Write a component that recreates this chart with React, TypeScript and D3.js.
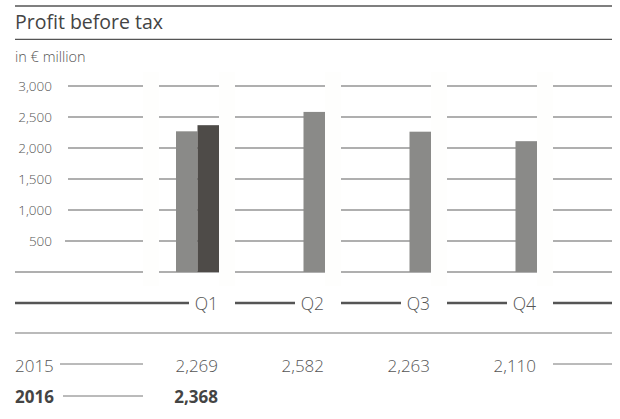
import React from "react";
import * as d3 from "d3";

const quarters = ["Q1", "Q2", "Q3", "Q4"];
const values2015 = [2269, 2582, 2263, 2110];
const values2016: (number | null)[] = [2368, null, null, null];
const yTicks = [500, 1000, 1500, 2000, 2500, 3000];
const title = "Profit before tax";
const unit = "in € million";

const W = 620;
const H = 419;
const FONT = "'Open Sans', Lato, sans-serif";
const fmt = d3.format(",");

export default function App() {
  const y = d3.scaleLinear().domain([0, 3000]).range([272, 86]);
  const x = d3.scaleBand<string>().domain(quarters).range([113, 537]).padding(0);
  const bw = x.bandwidth();
  const barW = 21.5;
  const gapW = 16;
  const left = 15;
  const right = 612;
  const gridColor = "#959595";
  const textColor = "#555";

  const groupEnd = (q: string) => (x(q) as number) + bw;
  const columns: [number, number][] = [];
  columns.push([68, 143]);
  quarters.forEach((q, i) => {
    const start = i === 0 ? 143 + gapW : groupEnd(quarters[i - 1]) + gapW;
    columns.push([start, groupEnd(q)]);
  });
  columns.push([groupEnd(quarters[3]) + gapW, right]);
  const gaps = [143, ...quarters.map((q) => groupEnd(q))];

  return (
    <svg
      width={W}
      height={H}
      style={{ position: "absolute", left: 0, top: 0, background: "#fff" }}
      fontFamily={FONT}
    >
      <rect x={0} y={0} width={W} height={H} fill="#fff" />
      <line x1={left} x2={right} y1={6} y2={6} stroke="#555" strokeWidth={1.3} />
      <text x={left} y={29} fontSize={19.5} fill="#444" fontWeight={400}>
        {title}
      </text>
      <line x1={left} x2={right} y1={39.3} y2={39.3} stroke="#555" strokeWidth={1.3} />
      <text x={left} y={62} fontSize={14.5} fill={textColor} fontWeight={300}>
        {unit}
      </text>

      {gaps.map((g, i) => (
        <rect key={i} x={g} y={72} width={gapW} height={214} fill="#fefefd" />
      ))}

      {yTicks.map((t) => (
        <g key={t}>
          <text
            x={52}
            y={y(t)}
            dy="0.35em"
            textAnchor="end"
            fontSize={13.5}
            fill={textColor}
            fontWeight={300}
          >
            {fmt(t)}
          </text>
          {columns.map(([a, b], i) => (
            <line
              key={i}
              x1={i === 0 && t === 500 ? 65 : a}
              x2={b}
              y1={y(t)}
              y2={y(t)}
              stroke={gridColor}
              strokeWidth={1.3}
            />
          ))}
        </g>
      ))}
      {columns.map(([a, b], i) => (
        <line
          key={"z" + i}
          x1={i === 0 ? left : a}
          x2={b}
          y1={y(0)}
          y2={y(0)}
          stroke={gridColor}
          strokeWidth={1.3}
        />
      ))}

      {quarters.map((q, i) => {
        const end = groupEnd(q);
        const v16 = values2016[i];
        const x15 = v16 != null ? end - 2 * barW : end - barW;
        return (
          <g key={q}>
            <rect
              x={x15}
              y={y(values2015[i])}
              width={barW}
              height={y(0) - y(values2015[i])}
              fill="#8a8a88"
            />
            {v16 != null && (
              <rect
                x={end - barW}
                y={y(v16)}
                width={barW}
                height={y(0) - y(v16)}
                fill="#4e4b48"
              />
            )}
          </g>
        );
      })}

      {quarters.map((q, i) => {
        const end = groupEnd(q);
        const start = i === 0 ? left : groupEnd(quarters[i - 1]) + gapW;
        return (
          <g key={"ax" + q}>
            <line x1={start} x2={end - 30} y1={303} y2={303} stroke="#555" strokeWidth={2.6} />
            <text x={end - 1} y={309.5} textAnchor="end" fontSize={17.5} fill={textColor} fontWeight={300}>
              {q}
            </text>
          </g>
        );
      })}
      <line
        x1={groupEnd(quarters[3]) + gapW}
        x2={right}
        y1={303}
        y2={303}
        stroke="#555"
        strokeWidth={2.6}
      />

      <line x1={left} x2={right} y1={333} y2={333} stroke="#777" strokeWidth={1.2} />

      <text x={left} y={371.5} fontSize={17} fill={textColor} fontWeight={300}>
        2015
      </text>
      <line x1={60} x2={143} y1={364} y2={364} stroke="#777" strokeWidth={1} />
      {quarters.map((q, i) => (
        <text
          key={"v15" + q}
          x={groupEnd(q) - 1}
          y={371.5}
          textAnchor="end"
          fontSize={17}
          fill={textColor}
          fontWeight={300}
        >
          {fmt(values2015[i])}
        </text>
      ))}
      <line
        x1={groupEnd(quarters[3]) + gapW}
        x2={right}
        y1={364}
        y2={364}
        stroke="#777"
        strokeWidth={1}
      />

      <text x={left} y={402.5} fontSize={17} fill="#444" fontWeight={700}>
        2016
      </text>
      <line x1={63} x2={143} y1={396} y2={396} stroke="#777" strokeWidth={1} />
      {quarters.map((q, i) =>
        values2016[i] != null ? (
          <text
            key={"v16" + q}
            x={groupEnd(q) - 1}
            y={402.5}
            textAnchor="end"
            fontSize={17}
            fill="#444"
            fontWeight={700}
          >
            {fmt(values2016[i] as number)}
          </text>
        ) : null
      )}
    </svg>
  );
}
